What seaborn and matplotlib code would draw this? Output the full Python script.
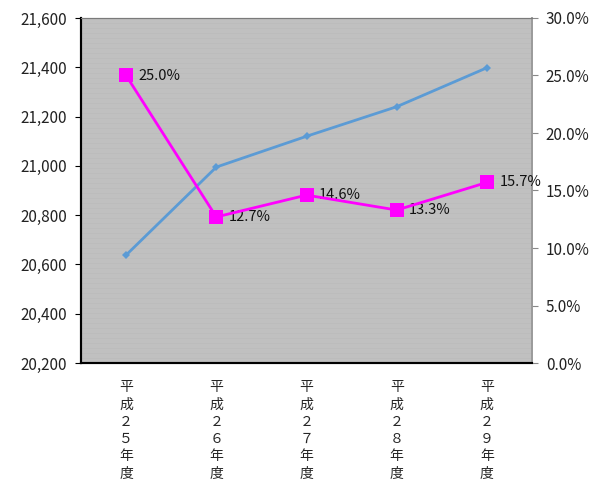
import matplotlib
matplotlib.use("Agg")
import matplotlib.pyplot as plt
import seaborn as sns
import pandas as pd
import numpy as np

# data
years = ["平\n成\n２\n５\n年\n度", "平\n成\n２\n６\n年\n度", "平\n成\n２\n７\n年\n度",
         "平\n成\n２\n８\n年\n度", "平\n成\n２\n９\n年\n度"]
counts = [20638, 20995, 21120, 21240, 21398]
rates = [25.0, 12.7, 14.6, 13.3, 15.7]
rate_labels = ["25.0%", "12.7%", "14.6%", "13.3%", "15.7%"]

df = pd.DataFrame({"pos": np.arange(len(years)), "count": counts, "rate": rates})

sns.set_style("white")
plt.rcParams['font.family'] = ['Noto Sans CJK JP', 'DejaVu Sans']

fig = plt.figure(figsize=(5.95, 4.86), dpi=100)
ax = fig.add_axes([81/595, 1-363/486, (532-81)/595, (363-18)/486])
ax.set_facecolor("#c0c0c0")

# faint stripes like the Excel fill pattern
for yy in np.arange(20200, 21600, 1400/69):
    ax.axhline(yy, color="#bbbbbb", linewidth=0.5, zorder=0)

sns.lineplot(data=df, x="pos", y="count", ax=ax, color="#5b9bd5", linewidth=2,
             marker="D", markersize=4, markeredgewidth=0, zorder=3)
ax.set_ylim(20200, 21600)
ax.set_yticks(np.arange(20200, 21601, 200))
ax.set_yticklabels([f"{v:,}" for v in range(20200, 21601, 200)], fontsize=11, color="#222222")
ax.set_xlim(-0.5, len(years) - 0.5)
ax.set_xticks(np.arange(0.5, len(years) - 0.5, 1))
ax.set_xticklabels([])
ax.tick_params(axis="x", direction="in", length=5, color="black")
ax.tick_params(axis="y", direction="out", length=4, color="black", pad=6)
for i, lab in enumerate(years):
    ax.text(i, -0.05, lab, transform=ax.get_xaxis_transform(), ha="center", va="top",
            fontsize=10, linespacing=1.3)
ax.set_xlabel("")
ax.set_ylabel("")

ax2 = ax.twinx()
sns.lineplot(data=df, x="pos", y="rate", ax=ax2, color="#ff00ff", linewidth=2,
             marker="s", markersize=10, markeredgewidth=0, zorder=4)
ax2.set_ylim(0, 30)
ax2.set_yticks(np.arange(0, 30.1, 5))
ax2.set_yticklabels([f"{v:.1f}%" for v in np.arange(0, 30.1, 5)], fontsize=11, color="#222222")
ax2.tick_params(axis="y", direction="out", length=4, color="#888888", pad=6)
ax2.set_ylabel("")
for i, (r, lab) in enumerate(zip(rates, rate_labels)):
    ax2.annotate(lab, (i, r), xytext=(9, 0), textcoords="offset points", ha="left",
                 va="center", fontsize=10.5, color="#111111")

for a in (ax, ax2):
    a.spines["left"].set_color("black")
    a.spines["bottom"].set_color("black")
    a.spines["left"].set_linewidth(1.5)
    a.spines["bottom"].set_linewidth(1.5)
    a.spines["top"].set_color("#7a7a7a")
    a.spines["right"].set_color("#9a9a9a")
    a.spines["right"].set_linewidth(1.2)

fig.savefig("out.png", dpi=100)
